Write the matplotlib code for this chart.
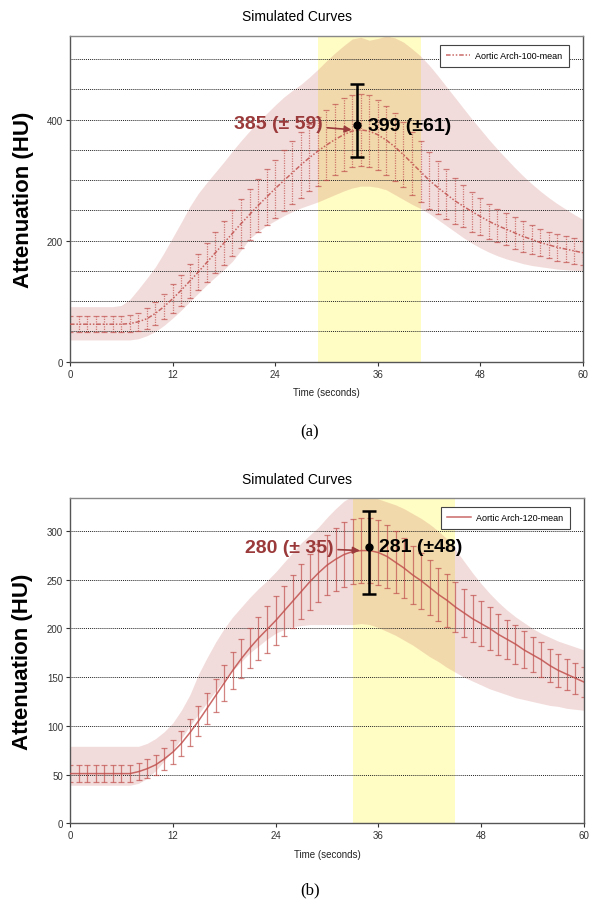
import matplotlib
matplotlib.use("Agg")
import matplotlib.pyplot as plt
import numpy as np

plt.rcParams['font.family'] = ['Liberation Sans', 'DejaVu Sans']

# === Data ===
time_s = list(range(0, 61))

# (a) Aortic Arch-100
mean_a = [62, 62, 62, 62, 62, 62, 62, 63, 66, 71, 80, 91, 104, 118, 133, 148, 164, 180, 196, 212,
          228, 243, 258, 272, 286, 299, 312, 325, 337, 348, 358, 367, 375, 381, 383, 381, 375, 366, 355, 342,
          328, 314, 300, 288, 277, 266, 257, 248, 240, 232, 225, 219, 213, 207, 202, 197, 193, 189, 186, 183, 180]
sd_a = [13, 13, 13, 13, 13, 13, 13, 14, 15, 17, 19, 21, 24, 26, 28, 30, 32, 34, 36, 38,
        40, 42, 44, 46, 48, 50, 52, 54, 55, 57, 58, 59, 60, 60, 60, 59, 58, 57, 56, 54,
        52, 50, 47, 44, 41, 38, 35, 33, 31, 29, 28, 27, 26, 25, 24, 23, 22, 22, 21, 21, 20]
band_lo_a = [36, 36, 36, 36, 36, 36, 36, 36, 38, 43, 50, 60, 72, 85, 99, 113, 127, 140, 152, 166,
             184, 203, 215, 225, 233, 241, 248, 254, 259, 264, 270, 276, 282, 287, 290, 290, 288, 284, 276, 268,
             260, 253, 245, 235, 225, 215, 205, 196, 188, 181, 175, 170, 166, 162, 159, 157, 155, 153, 152, 151, 150]
band_hi_a = [91, 91, 91, 91, 91, 91, 93, 103, 120, 138, 157, 180, 205, 230, 256, 278, 296, 313, 330, 348,
             365, 381, 396, 410, 424, 437, 448, 458, 470, 483, 497, 510, 522, 533, 536, 531, 534, 538, 535, 528,
             517, 505, 490, 473, 455, 437, 419, 401, 384, 367, 351, 336, 321, 307, 294, 282, 271, 261, 252, 243, 235]

# (b) Aortic Arch-120
mean_b = [51, 51, 51, 51, 51, 51, 51, 51, 53, 56, 60, 66, 73, 82, 93, 105, 118, 131, 144, 157,
          169, 180, 190, 199, 208, 218, 228, 238, 248, 257, 265, 271, 276, 279, 280, 280, 278, 274, 268, 262,
          255, 249, 242, 235, 229, 222, 216, 210, 205, 200, 194, 189, 184, 178, 173, 168, 162, 157, 153, 149, 145]
sd_b = [9, 9, 9, 9, 9, 9, 9, 9, 9, 10, 10, 11, 12, 13, 14, 15, 16, 17, 18, 19,
        20, 21, 22, 24, 25, 26, 27, 28, 29, 30, 31, 32, 33, 33, 33, 33, 33, 32, 32, 31,
        30, 29, 28, 27, 27, 26, 25, 24, 23, 22, 21, 20, 20, 19, 18, 18, 17, 17, 16, 16, 15]
band_lo_b = [39, 39, 39, 39, 39, 39, 39, 39, 41, 46, 54, 64, 75, 87, 100, 112, 124, 136, 147, 157,
             166, 175, 182, 189, 195, 199, 202, 203, 204, 204, 204, 204, 204, 204, 205, 204, 201, 197, 193, 188,
             183, 177, 171, 166, 160, 155, 150, 146, 142, 138, 135, 132, 129, 127, 125, 123, 121, 120, 118, 117, 116]
band_hi_b = [79, 79, 79, 79, 79, 79, 79, 79, 79, 82, 87, 94, 103, 116, 132, 153, 170, 186, 200, 212,
             222, 232, 241, 249, 258, 268, 278, 288, 296, 304, 314, 323, 331, 336, 338, 336, 333, 330, 327, 323,
             318, 313, 307, 300, 292, 281, 269, 257, 246, 236, 227, 219, 212, 206, 200, 195, 191, 187, 184, 181, 178]

# highlighted windows (seconds)
window_a = (29.0, 41.0)
window_b = (33.0, 45.0)

# measured point: time, dot, low cap, high cap
meas_a = (33.6, 391, 338, 459)
meas_b = (34.9, 284, 235, 321)
meas_label_a = "399 (±61)"
meas_label_b = "281 (±48)"
peak_label_a = "385 (± 59)"
peak_label_b = "280 (± 35)"
peak_a = (33.1, 383)
peak_b = (34.0, 280)

x_ticks = [0, 12, 24, 36, 48, 60]
y_ticks_a = [0, 200, 400]
y_ticks_b = [0, 50, 100, 150, 200, 250, 300]
grid_a = [50, 100, 150, 200, 250, 300, 350, 400, 450, 500]
grid_b = [50, 100, 150, 200, 250, 300]

red = '#C0504D'
dark_red = '#9B3A3A'

fig = plt.figure(figsize=(5.9, 9.03), dpi=100)
ax_a = fig.add_axes([0.1186, 0.5983, 0.8695, 0.3607])
ax_b = fig.add_axes([0.1186, 0.0872, 0.8712, 0.3602])


def draw_panel(ax, mean, sd, lo, hi, window, meas, meas_label, peak, peak_label,
               yticks, grid, ylim, legend_label, dotted, text_x, text_y):
    ax.axvspan(window[0], window[1], color='#FFFCC4', zorder=0.5, lw=0)
    ax.fill_between(time_s, lo, hi, color=red, alpha=0.2, lw=0, zorder=1)
    for g in grid:
        ax.axhline(g, color='#222222', lw=0.7, ls=(0, (1, 1)), zorder=1.5)
    if dotted:
        ls = (0, (3, 1.2, 1, 1.2, 1, 1.2))
    else:
        ls = '-'
    ax.plot(time_s, mean, color=red, lw=1.1, ls=ls, alpha=0.85, zorder=3, label=legend_label)
    eb = ax.errorbar(time_s, mean, yerr=sd, fmt='none', ecolor=red, elinewidth=0.9,
                     capsize=2, capthick=0.9, alpha=0.7, zorder=2)
    if dotted:
        eb[2][0].set_linestyle((0, (1, 1)))

    # measured point
    t, y, ylo, yhi = meas
    ax.errorbar([t], [y], yerr=[[y - ylo], [yhi - y]], fmt='o', color='black', ms=5,
                elinewidth=1.8, capsize=5, capthick=1.8, zorder=6)
    ax.text(t + 1.2, y, meas_label, fontsize=14, fontweight='bold', color='black',
            ha='left', va='center', zorder=7)
    ax.annotate(peak_label, xy=peak, xytext=(text_x, text_y), textcoords='data',
                fontsize=14, fontweight='bold', color=dark_red, ha='right', va='center',
                arrowprops=dict(arrowstyle='-|>', color=dark_red, lw=1.2,
                                shrinkA=1, shrinkB=1, mutation_scale=10),
                zorder=7)

    ax.set_xlim(0, 60)
    ax.set_ylim(*ylim)
    ax.set_xticks(x_ticks)
    ax.set_yticks(yticks)
    ax.tick_params(labelsize=7, colors='#333333', length=3, width=0.8, pad=2)
    for s in ax.spines.values():
        s.set_color('#555555')
        s.set_linewidth(1.0)
    ax.spines['top'].set_color('#888888')
    ax.set_xlabel('Time (seconds)', fontsize=7, color='#222222', labelpad=6)
    ax.set_ylabel('Attenuation (HU)', fontsize=16, fontweight='bold')
    leg = ax.legend(loc='upper right', bbox_to_anchor=(0.972, 0.972), fontsize=6.5,
                    fancybox=False, framealpha=1, edgecolor='#444444',
                    handlelength=2.6, borderpad=0.7, borderaxespad=0,
                    handletextpad=0.6)
    leg.get_frame().set_linewidth(0.8)
    # pin the y label just left of the tick labels, like the reference
    ax.yaxis.set_label_coords(-0.071, 0.5)


draw_panel(ax_a, mean_a, sd_a, band_lo_a, band_hi_a, window_a, meas_a, meas_label_a,
           peak_a, peak_label_a, y_ticks_a, grid_a, (0, 538), 'Aortic Arch-100-mean', True,
           29.6, 393)
draw_panel(ax_b, mean_b, sd_b, band_lo_b, band_hi_b, window_b, meas_b, meas_label_b,
           peak_b, peak_label_b, y_ticks_b, grid_b, (0, 334), 'Aortic Arch-120-mean', False,
           30.8, 283)

fig.text(0.503, 0.981, 'Simulated Curves', fontsize=10, ha='center', va='center')
fig.text(0.503, 0.468, 'Simulated Curves', fontsize=10, ha='center', va='center')
fig.text(0.525, 0.521, '(a)', fontsize=12, family='Liberation Serif', ha='center', va='center')
fig.text(0.525, 0.0145, '(b)', fontsize=12, family='Liberation Serif', ha='center', va='center')

fig.savefig('out.png', dpi=100)
